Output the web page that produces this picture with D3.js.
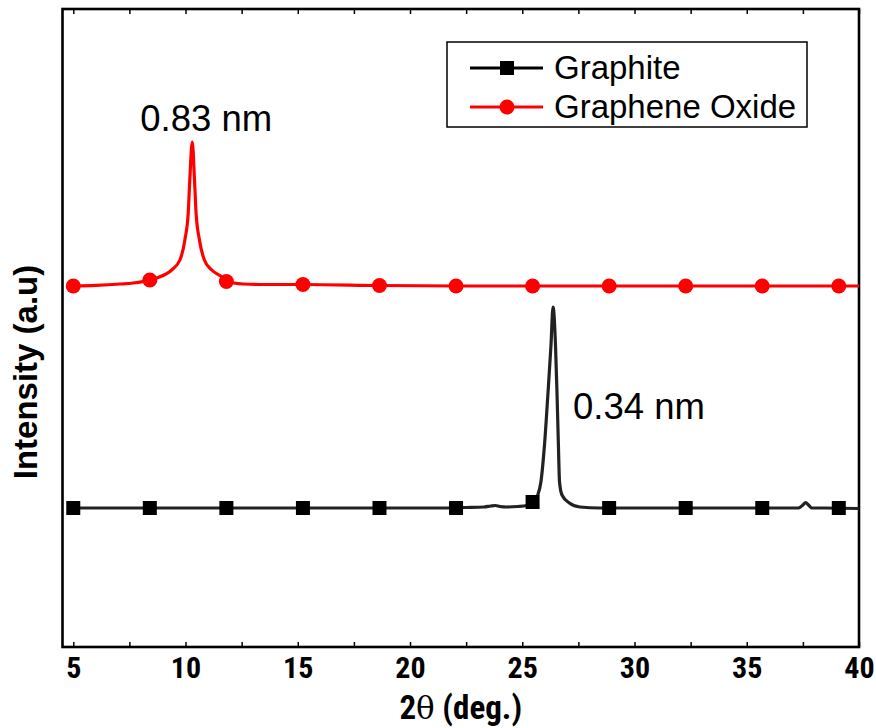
<!DOCTYPE html>
<html><head><meta charset="utf-8">
<script src="https://cdn.jsdelivr.net/npm/d3@7"></script>
<style>body{margin:0;background:#fff}</style>
</head><body>
<svg id="c" width="876" height="728"></svg>
<script>
// ---- data ----
const xTicks = [5, 10, 15, 20, 25, 30, 35, 40];
const xMinorTicks = [5, 7.5, 10, 12.5, 15, 17.5, 20, 22.5, 25, 27.5, 30, 32.5, 35, 37.5, 40];

const graphiteX = [5.0, 7, 9, 11, 13, 15, 17, 19, 21, 22.5, 23.3, 23.6, 23.8, 24.0, 24.3, 24.8, 25.2,
  25.48, 25.69, 25.83, 25.99, 26.14, 26.28, 26.37, 26.48, 26.55, 26.61, 26.66, 26.77, 27.1, 27.57, 28.46,
  30, 32, 34, 36, 37.3, 37.5, 37.62, 37.75, 37.9, 38.5, 40];
const graphiteY = [140, 140, 140, 140, 140, 140, 140, 140, 140, 140.5, 141, 142, 142.5, 141.5, 141, 141.5, 142.5,
  146, 153, 166, 203, 253, 303, 341, 303, 253, 203, 166, 153, 145, 141, 140,
  140, 140, 140, 140, 140, 143, 145.5, 143, 140, 140, 139.5];

const goX = [5.0, 6.0, 7.08, 7.67, 8.42, 8.71, 9.38, 9.75, 9.97, 10.12, 10.19, 10.30, 10.40, 10.47, 10.62, 10.84,
  11.17, 11.68, 11.83, 12.57, 13.32, 15.23, 18.66, 22.09, 25, 28.46, 32, 36, 40];
const goY = [362, 362.7, 364, 365, 368, 370, 378, 388, 408, 435, 468, 506, 468, 435, 408, 388,
  378, 370, 366.5, 364, 363.5, 363.5, 362.5, 362, 362, 362, 362, 362, 362];

const markerX = [5, 8.41, 11.82, 15.23, 18.64, 22.05, 25.46, 28.87, 32.28, 35.69, 39.1];
const graphiteMarkY = [140, 140, 140, 140, 140, 140, 146, 140, 140, 140, 140];
const goMarkY = [362, 368, 366.5, 363.5, 362.5, 362, 362, 362, 362, 362, 362];

const seriesNames = ["Graphite", "Graphene Oxide"];
const xLabelParts = ["2", "θ", " (deg.)"];
const yLabel = "Intensity (a.u)";
const annotations = [{x: 10.3, y: 506, text: "0.83 nm"}, {x: 26.37, y: 341, text: "0.34 nm"}];

// ---- layout ----
const L = 62.5, R = 859, T = 9, B = 647;
const svg = d3.select("#c");
const x = d3.scaleLinear().domain([4.52, 40]).range([L, R]);
const y = d3.scaleLinear().domain([0, 638]).range([B + 1, T + 1]);

const narrow = "'Liberation Sans Narrow','Arial Narrow','Roboto Condensed',sans-serif";
const sans = "'Liberation Sans',Arial,sans-serif";

// ticks bottom & top (inward)
svg.append("g").attr("transform", `translate(0,${B})`)
  .call(d3.axisBottom(x).tickValues(xMinorTicks).tickSize(-5).tickFormat(""))
  .call(g => g.select(".domain").remove())
  .call(g => g.selectAll("line").attr("stroke", "#000").attr("stroke-width", 1.5));
svg.append("g").attr("transform", `translate(0,${T})`)
  .call(d3.axisTop(x).tickValues(xMinorTicks).tickSize(-5).tickFormat(""))
  .call(g => g.select(".domain").remove())
  .call(g => g.selectAll("line").attr("stroke", "#000").attr("stroke-width", 1.5));
// tick labels
svg.append("g").attr("transform", `translate(0,${B})`)
  .call(d3.axisBottom(x).tickValues(xTicks).tickSize(0).tickPadding(10).tickFormat(d3.format("d")))
  .call(g => g.select(".domain").remove())
  .call(g => g.selectAll("text").attr("font-family", narrow).attr("font-weight", "bold")
    .attr("font-size", 30).attr("fill", "#000").attr("dy", "0.71em"));

// frame
svg.append("rect").attr("x", L).attr("y", T).attr("width", R - L).attr("height", B - T)
  .attr("fill", "none").attr("stroke", "#000").attr("stroke-width", 2.6);

const line = d3.line().x(d => x(d[0])).y(d => y(d[1])).curve(d3.curveMonotoneX);
const gData = graphiteX.map((v, i) => [v, graphiteY[i]]);
const oData = goX.map((v, i) => [v, goY[i]]);

svg.append("path").datum(gData).attr("d", line).attr("fill", "none")
  .attr("stroke", "#222").attr("stroke-width", 3.2).attr("stroke-linejoin", "round");
svg.append("path").datum(oData).attr("d", line).attr("fill", "none")
  .attr("stroke", "#ff0000").attr("stroke-width", 3.2).attr("stroke-linejoin", "round");

svg.append("g").selectAll("rect").data(markerX.map((v, i) => [v, graphiteMarkY[i]])).join("rect")
  .attr("x", d => x(d[0]) - 7).attr("y", d => y(d[1]) - 7).attr("width", 14).attr("height", 14).attr("fill", "#000");
svg.append("g").selectAll("circle").data(markerX.map((v, i) => [v, goMarkY[i]])).join("circle")
  .attr("cx", d => x(d[0])).attr("cy", d => y(d[1])).attr("r", 7.5).attr("fill", "#ff0000");

// annotations
svg.append("text").attr("x", x(annotations[0].x) + 14).attr("y", y(annotations[0].y) - 11)
  .attr("text-anchor", "middle").attr("font-family", sans).attr("font-size", 36.5).text(annotations[0].text);
svg.append("text").attr("x", x(annotations[1].x) + 20).attr("y", y(annotations[1].y) + 112)
  .attr("text-anchor", "start").attr("font-family", sans).attr("font-size", 36.5).text(annotations[1].text);

// axis titles
const xt = svg.append("text").attr("x", (L + R) / 2).attr("y", 719).attr("text-anchor", "middle")
  .attr("font-family", narrow).attr("font-weight", "bold").attr("font-size", 33);
xt.append("tspan").text(xLabelParts[0]);
xt.append("tspan").attr("font-family", "'DejaVu Serif',serif").attr("font-weight", "normal").attr("font-size", 31).text(xLabelParts[1]);
xt.append("tspan").text(xLabelParts[2]);
svg.append("text").attr("transform", `translate(37,${(T + B) / 2 + 44}) rotate(-90)`).attr("text-anchor", "middle")
  .attr("font-family", sans).attr("font-weight", "bold").attr("font-size", 33).text(yLabel);

// legend
const lg = svg.append("g");
lg.append("rect").attr("x", 447).attr("y", 42).attr("width", 360).attr("height", 85)
  .attr("fill", "#fff").attr("stroke", "#000").attr("stroke-width", 1.5);
const rows = [{name: seriesNames[0], color: "#000", y: 68, shape: "sq"}, {name: seriesNames[1], color: "#ff0000", y: 107, shape: "ci"}];
rows.forEach(r => {
  lg.append("line").attr("x1", 470).attr("x2", 543).attr("y1", r.y).attr("y2", r.y)
    .attr("stroke", r.color).attr("stroke-width", 3.2);
  if (r.shape === "sq") lg.append("rect").attr("x", 500).attr("y", r.y - 7).attr("width", 14).attr("height", 14).attr("fill", r.color);
  else lg.append("circle").attr("cx", 507).attr("cy", r.y).attr("r", 7.5).attr("fill", r.color);
  lg.append("text").attr("x", 554).attr("y", r.y + 11).attr("font-family", sans).attr("font-size", 33).text(r.name);
});
</script>
</body></html>
